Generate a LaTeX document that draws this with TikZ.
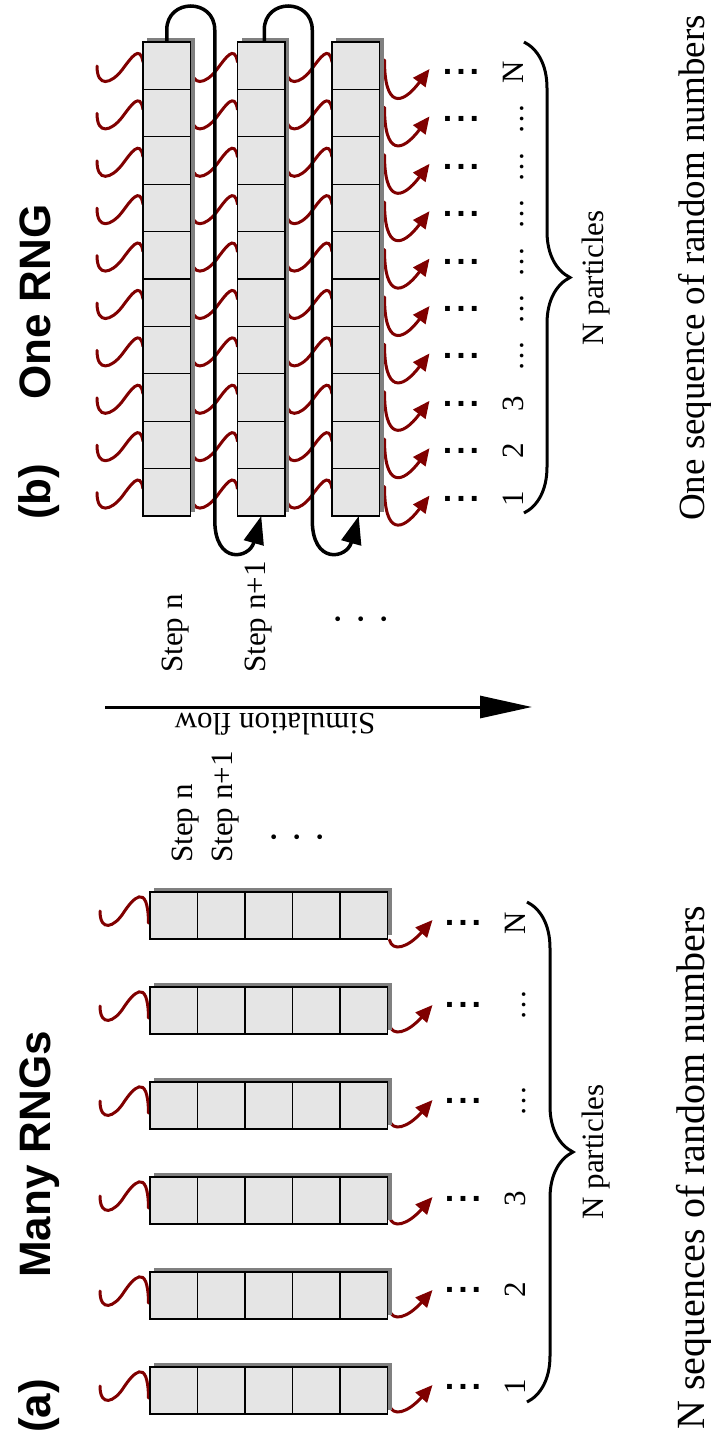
\documentclass[tikz,border=0pt]{standalone}
\usepackage{fontspec}
\setmainfont{Liberation Serif}
\setsansfont{Liberation Sans}
\usetikzlibrary{arrows.meta,decorations.pathreplacing}
\definecolor{rngred}{RGB}{128,0,0}
\definecolor{cellfill}{RGB}{229,229,229}
\definecolor{shadowgray}{RGB}{128,128,128}
\pgfdeclarelayer{squig}
\pgfdeclarelayer{shade}
\pgfsetlayers{squig,shade,main}
\tikzset{
  cell/.style={draw=black, fill=cellfill, line width=1.2pt, minimum width=47.5pt, minimum height=47.4pt, inner sep=0pt, outer sep=0pt, anchor=north west},
  cella/.style={cell, minimum height=47pt},
  rng/.style={draw=rngred, line width=3pt, line cap=round},
  rngout/.style={rng, -{Triangle[length=17pt,width=15pt]}},
  sqa/.pic={\draw[rng] (-50,19) .. controls (-50,40) and (-36,36) .. (-26,20) .. controls (-18,8) and (-2,-12) .. (-1.5,31);},
  sqb/.pic={\draw[rng] (-46,24) .. controls (-46,46) and (-32,42) .. (-21,28) .. controls (-12,16) and (-3,2) .. (0,20);},
  outa/.pic={\draw[rngout] (2,38) .. controls (5,50) and (20,46) .. (45,18);},
  outb/.pic={\draw[rngout] (5,18) .. controls (5,66) and (22,64) .. (50,27);},
  loopline/.style={draw=black, line width=3.5pt, -{Triangle[length=28pt,width=20pt]}},
  flowline/.style={draw=black, line width=3pt, -{Triangle[length=52pt,width=22pt]}},
  bracestyle/.style={draw=black, line width=3pt, decorate, decoration={brace, amplitude=46pt}},
  lbl/.style={font=\fontsize{31}{31}\selectfont, rotate=90, anchor=base, inner sep=0pt},
  sqdots/.style={font=\sffamily\bfseries\fontsize{34}{34}\selectfont, anchor=base, inner sep=0pt},
  mdots/.style={font=\fontsize{40}{40}\selectfont, inner sep=0pt},
  stepl/.style={font=\fontsize{31}{31}\selectfont, rotate=90, anchor=base west, inner sep=0pt},
  head/.style={font=\sffamily\bfseries\fontsize{44}{44}\selectfont, rotate=90, anchor=base west, inner sep=0pt},
  bigtxt/.style={font=\fontsize{40}{40}\selectfont, rotate=90, anchor=base west, inner sep=0pt},
}
\begin{document}
\begin{tikzpicture}[x=1pt,y=-1pt]
\useasboundingbox (0,0) rectangle (711,1441);

% ---------- panel (a): many RNGs ----------
\foreach \k/\yt in {1/1367,2/1272,3/1177,4/1082,5/987,6/892} {
  \foreach \c in {1,...,5} {
    \node[cella] (a\k-\c) at ({150+47.5*(\c-1)}, \yt) {};
  }
}
\begin{pgfonlayer}{shade}
\foreach \k in {1,...,6} {
  \fill[shadowgray] ([shift={(4,-4)}]a\k-1.north west) rectangle ([shift={(4,-4)}]a\k-5.south east);
}
\end{pgfonlayer}
\begin{pgfonlayer}{squig}
\foreach \k/\dy in {1/0,2/0,3/2,4/0,5/0,6/10} {
  \pic at (a\k-1.north west) {sqa};
  \pic at ([yshift=-\dy pt]a\k-5.north east) {outa};
}
\end{pgfonlayer}
\foreach \k/\lab/\ry in {1/1/1387,2/2/1290,3/3/1199,4/…/1101,5/…/1005,6/N/923} {
  \node[sqdots] (ad\k) at (463,\ry+2.5) {.\hspace{4pt}.\hspace{4pt}.};
  \node[lbl] (al\k) at (525,\ry) {\lab};
}
\coordinate (abrT) at (527,902);
\coordinate (abrB) at (527,1402);
\draw[bracestyle] (abrT) -- (abrB);
\node[lbl, anchor=base] (apart) at (603,1152) {N particles};

\node[stepl] (astepn) at (192,863) {Step n};
\node[stepl] (astepn1) at (232,863) {Step n+1};
\node[mdots] (amdots) at (297,843) {·\hspace{10pt}·\hspace{10pt}·};

\node[head] (alab) at (50,1433) {(a)};
\node[head] (atitle) at (50,1278) {Many RNGs};
\node[bigtxt] (abig) at (704,1430) {N sequences of random numbers};

% ---------- simulation flow ----------
\coordinate (flowS) at (105,707);
\coordinate (flowE) at (532,707);
\draw[flowline] (flowS) -- (flowE);
\node[font=\fontsize{31}{31}\selectfont, rotate=180, anchor=base, inner sep=0pt] (flowtxt) at (275,713) {Simulation flow};

% ---------- panel (b): one RNG ----------
\foreach \i/\x in {1/143,2/237.5,3/332} {
  \foreach \j in {1,...,10} {
    \node[cell] (b\i-\j) at (\x, {42+47.4*(\j-1)}) {};
  }
}
\begin{pgfonlayer}{shade}
\foreach \i in {1,2,3} {
  \fill[shadowgray] ([shift={(4,-4)}]b\i-1.north west) rectangle ([shift={(4,-4)}]b\i-10.south east);
}
\end{pgfonlayer}
\begin{pgfonlayer}{squig}
\foreach \j in {1,...,10} {
  \pic at (b1-\j.north west) {sqb};
  \pic at (b2-\j.north west) {sqb};
  \pic at (b3-\j.north west) {sqb};
  \pic at (b3-\j.north east) {outb};
}
\end{pgfonlayer}
\foreach \j/\lab in {1/N,2/…,3/…,4/…,5/…,6/…,7/…,8/3,9/2,10/1} {
  \node[sqdots] (bd\j) at (461,{42+47.4*(\j-1)+32.5}) {.\hspace{4pt}.\hspace{4pt}.};
  \node[lbl] (bl\j) at (523,{42+47.4*(\j-1)+30}) {\lab};
}
\draw[loopline] (b1-1.north) -- ++(0,-12) .. controls +(0,-32) and +(0,-32) .. ++(48,0) -- ++(0,490) .. controls +(0,45) and +(-12,43) .. (b2-10.south);
\draw[loopline] ([xshift=3pt]b2-1.north) -- ++(0,-12) .. controls +(0,-32) and +(0,-32) .. ++(48,0) -- ++(0,490) .. controls +(0,45) and +(-12,43) .. ([xshift=3pt]b3-10.south);

\coordinate (bbrT) at (524,42);
\coordinate (bbrB) at (524,513);
\draw[bracestyle] (bbrT) -- (bbrB);
\node[lbl, anchor=base] (bpart) at (603,278) {N particles};

\node[stepl] (bstepn) at (182,673) {Step n};
\node[stepl] (bstepn1) at (265,673) {Step n+1};
\node[mdots] (bmdots) at (361,625) {·\hspace{10pt}·\hspace{10pt}·};

\node[head] (blab) at (50,520) {(b)};
\node[head] (btitle) at (50,400) {One RNG};
\node[bigtxt, font=\fontsize{37}{37}\selectfont] (bbig) at (704,521) {One sequence of random numbers};
\end{tikzpicture}
\end{document}
